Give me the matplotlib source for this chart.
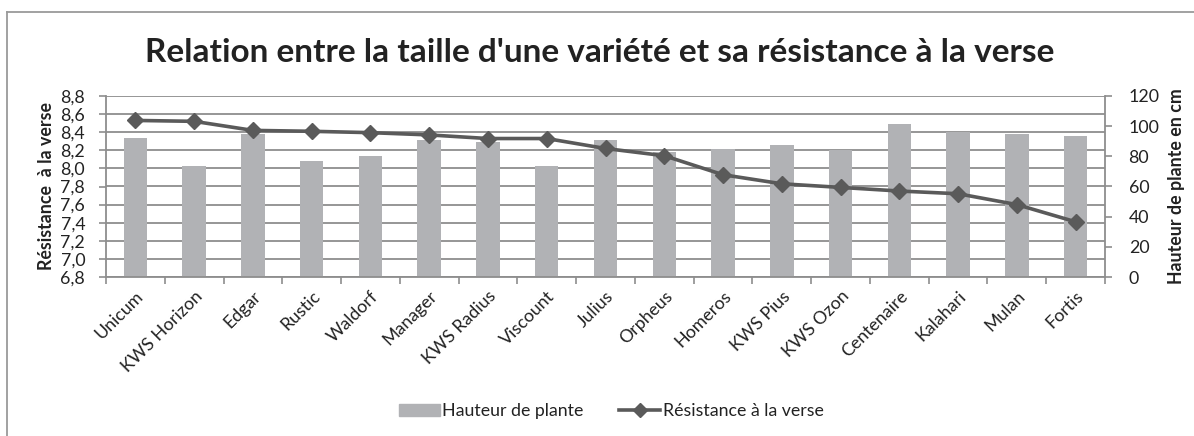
import matplotlib
matplotlib.use("Agg")
import matplotlib.pyplot as plt
import numpy as np
from matplotlib.lines import Line2D

varieties = ["Unicum", "KWS Horizon", "Edgar", "Rustic", "Waldorf", "Manager",
             "KWS Radius", "Viscount", "Julius", "Orpheus", "Homeros", "KWS Pius",
             "KWS Ozon", "Centenaire", "Kalahari", "Mulan", "Fortis"]
hauteur = [92.4, 73.6, 94.8, 76.7, 80.4, 90.6, 89.5, 73.8, 90.6, 83.1, 84.6,
           87.5, 84.2, 101.4, 96.3, 94.8, 93.5]
resistance = [8.53, 8.52, 8.42, 8.41, 8.395, 8.37, 8.33, 8.33, 8.22, 8.14, 7.93,
              7.83, 7.79, 7.75, 7.72, 7.60, 7.41]
left_ticks = [6.8, 7.0, 7.2, 7.4, 7.6, 7.8, 8.0, 8.2, 8.4, 8.6, 8.8]
right_ticks = [0, 20, 40, 60, 80, 100, 120]

plt.rcParams['font.family'] = ['Lato', 'DejaVu Sans']

W, H = 1194, 436
fig = plt.figure(figsize=(W / 100, H / 100), dpi=100)

bar_color = "#B1B2B5"
line_color = "#5A5A5A"
grid_color = "#8E8E8E"
text_color = "#222222"
fs = 12.8

ax = fig.add_axes([106 / W, 1 - 277 / H, (1105 - 106) / W, (277 - 96) / H])
ax2 = ax.twinx()

x = np.arange(len(varieties))

ax.set_zorder(ax2.get_zorder() + 1)
ax.patch.set_visible(False)

ax2.bar(x, hauteur, width=0.4, color=bar_color, zorder=2)
ax2.set_ylim(0, 120)
ax2.set_yticks(right_ticks)
ax2.set_yticklabels([str(v) for v in right_ticks], fontsize=fs, color=text_color)

ax.plot(x, resistance, color=line_color, lw=2.6, marker="D", markersize=8,
        markerfacecolor=line_color, markeredgecolor=line_color, zorder=5)
ax.set_ylim(6.8, 8.8)
ax.set_yticks(left_ticks)
ax.set_yticklabels([f"{v:.1f}".replace(".", ",") for v in left_ticks],
                   fontsize=fs, color=text_color)
ax.set_xlim(-0.5, len(varieties) - 0.5)

for v in left_ticks:
    ax2.axhline((v - 6.8) / 2.0 * 120, color=grid_color, lw=1.3, zorder=1)

ax.set_xticks(x)
ax.set_xticklabels(varieties, rotation=45, ha="right", rotation_mode="anchor",
                   fontsize=fs, color=text_color)
ax.tick_params(axis="x", length=0, pad=8)
ax.set_xticks(np.arange(-0.5, len(varieties), 1), minor=True)
ax.tick_params(axis="x", which="minor", length=5, color=grid_color, width=1.2)
ax.tick_params(axis="y", length=5, color=grid_color, width=1.2, pad=10)
ax2.tick_params(axis="y", length=5, color=grid_color, width=1.2, pad=12)

for a in (ax, ax2):
    for s in a.spines.values():
        s.set_visible(False)
for a, side in ((ax, "left"), (ax, "bottom"), (ax2, "right")):
    a.spines[side].set_visible(True)
    a.spines[side].set_color(grid_color)
    a.spines[side].set_linewidth(1.3)

ax.set_ylabel("Résistance  à la verse", fontsize=fs, fontweight="bold",
              color=text_color, labelpad=4)
ax2.set_ylabel("Hauteur de plante en cm", fontsize=fs, fontweight="bold",
               color=text_color, labelpad=6)

fig.text(0.502, 1 - 52 / H, "Relation entre la taille d'une variété et sa résistance à la verse",
         ha="center", va="center", fontsize=24, fontweight="bold", color=text_color)

handles = [plt.Rectangle((0, 0), 1, 1, color=bar_color),
           Line2D([0], [0], color=line_color, lw=2.6, marker="D", markersize=7)]
fig.legend(handles, ["Hauteur de plante", "Résistance à la verse"],
           loc="center", bbox_to_anchor=(0.512, 1 - 411 / H), ncol=2,
           frameon=False, fontsize=fs, handlelength=2.3, handletextpad=0.15,
           columnspacing=2.0, labelcolor=text_color)

fig.add_artist(Line2D([7 / W, 7 / W], [0, 1 - 12 / H], transform=fig.transFigure,
                      color="#9A9A9A", lw=1.3))
fig.add_artist(Line2D([7 / W, 1], [1 - 12 / H, 1 - 12 / H], transform=fig.transFigure,
                      color="#9A9A9A", lw=1.3))

fig.savefig("out.png", dpi=100)
